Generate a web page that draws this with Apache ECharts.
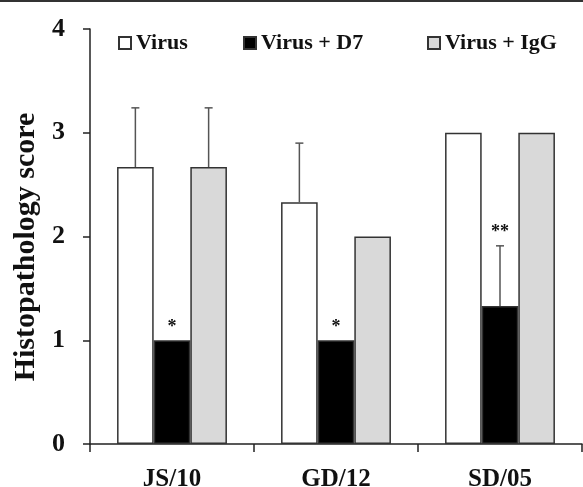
<!DOCTYPE html>
<html>
<head>
<meta charset="utf-8">
<script src="https://cdn.jsdelivr.net/npm/echarts@6/dist/echarts.min.js"></script>
<style>
  html, body { margin: 0; padding: 0; background: #fff; }
  #chart { width: 583px; height: 487px; }
</style>
</head>
<body>
<div id="chart"></div>
<script>
  var categories = ['JS/10', 'GD/12', 'SD/05'];
  var seriesNames = ['Virus', 'Virus + D7', 'Virus + IgG'];
  var virus = [2.67, 2.33, 3];
  var virusD7 = [1, 1, 1.33];
  var virusIgG = [2.67, 2, 3];
  // upper error (SD) for each bar, 0 = no bar drawn
  var virusErr = [0.57, 0.57, 0];
  var virusD7Err = [0, 0, 0.58];
  var virusIgGErr = [0.57, 0, 0];
  var signif = ['*', '*', '**'];
  var yTicks = [0, 1, 2, 3, 4];
  var yTitle = 'Histopathology score';

  var FONT = '"Liberation Serif", "Times New Roman", serif';
  var values = [virus, virusD7, virusIgG];
  var errs = [virusErr, virusD7Err, virusIgGErr];
  var fills = ['#ffffff', '#000000', '#d9d9d9'];
  var gapRatio = 0.33;

  var chart = echarts.init(document.getElementById('chart'));

  var errData = [];
  for (var k = 0; k < 3; k++) {
    for (var i = 0; i < categories.length; i++) {
      errData.push([i, values[k][i], errs[k][i], k, k === 1 ? signif[i] : '']);
    }
  }

  function renderErr(params, api) {
    var ci = api.value(0), v = api.value(1), e = api.value(2), k = api.value(3);
    var band = api.size([1, 0])[0];
    var bw = band * (1 - gapRatio) / 3;
    var base = api.coord([ci, v]);
    var x = base[0] + (k - 1) * bw;
    var children = [];
    var topY = base[1];
    if (e > 0) {
      var top = api.coord([ci, v + e])[1];
      topY = top;
      children.push({
        type: 'line', shape: {x1: x, y1: base[1], x2: x, y2: top},
        style: {stroke: '#555', lineWidth: 1.5}
      });
      children.push({
        type: 'line', shape: {x1: x - 4, y1: top, x2: x + 4, y2: top},
        style: {stroke: '#555', lineWidth: 1.5}
      });
    }
    var s = errData[params.dataIndex][4];
    if (s) {
      children.push({
        type: 'text',
        style: {
          text: s, x: x, y: topY - 4, align: 'center', verticalAlign: 'bottom',
          font: 'bold 18px ' + FONT, fill: '#111'
        }
      });
    }
    return {type: 'group', children: children};
  }

  var series = seriesNames.map(function (name, k) {
    return {
      name: name,
      type: 'bar',
      data: values[k],
      barGap: '0%',
      barCategoryGap: (gapRatio * 100) + '%',
      itemStyle: {color: fills[k], borderColor: '#333', borderWidth: 1.5},
      z: 2
    };
  });
  series.push({
    type: 'custom',
    renderItem: renderErr,
    data: errData,
    z: 3,
    silent: true
  });

  function legendAt(name, left) {
    return {
      data: [name],
      left: left,
      top: 32,
      padding: 0,
      icon: 'rect',
      itemWidth: 12,
      itemHeight: 12,
      itemGap: 6,
      selectedMode: false,
      textStyle: {fontFamily: FONT, fontWeight: 'bold', fontSize: 22, color: '#111'}
    };
  }

  var option = {
    animation: false,
    backgroundColor: '#fff',
    grid: {left: 90, right: 1, top: 29, bottom: 43, outerBoundsMode: 'none', containLabel: false},
    legend: [legendAt('Virus', 118), legendAt('Virus + D7', 243), legendAt('Virus + IgG', 427)],
    graphic: [{
      type: 'line', shape: {x1: 0, y1: 1, x2: 583, y2: 1},
      style: {stroke: '#333', lineWidth: 2}
    }, {
      type: 'text', x: 26, y: 247, rotation: Math.PI / 2,
      style: {
        text: yTitle, align: 'center', verticalAlign: 'middle',
        font: 'bold 30px ' + FONT, fill: '#111'
      }
    }],
    xAxis: {
      type: 'category',
      data: categories,
      axisLine: {lineStyle: {color: '#222', width: 1.5}},
      axisTick: {show: true, length: 8, lineStyle: {color: '#222', width: 1.5}},
      axisLabel: {fontFamily: FONT, fontWeight: 'bold', fontSize: 25, color: '#111', margin: 23}
    },
    yAxis: {
      type: 'value',
      min: yTicks[0],
      max: yTicks[yTicks.length - 1],
      interval: 1,
      axisLine: {show: true, lineStyle: {color: '#222', width: 1.5}},
      axisTick: {show: true, length: 7, lineStyle: {color: '#222', width: 1.5}},
      splitLine: {show: false},
      axisLabel: {fontFamily: FONT, fontWeight: 'bold', fontSize: 26, color: '#111', margin: 25}
    },
    series: series
  };

  chart.setOption(option);
</script>
</body>
</html>
